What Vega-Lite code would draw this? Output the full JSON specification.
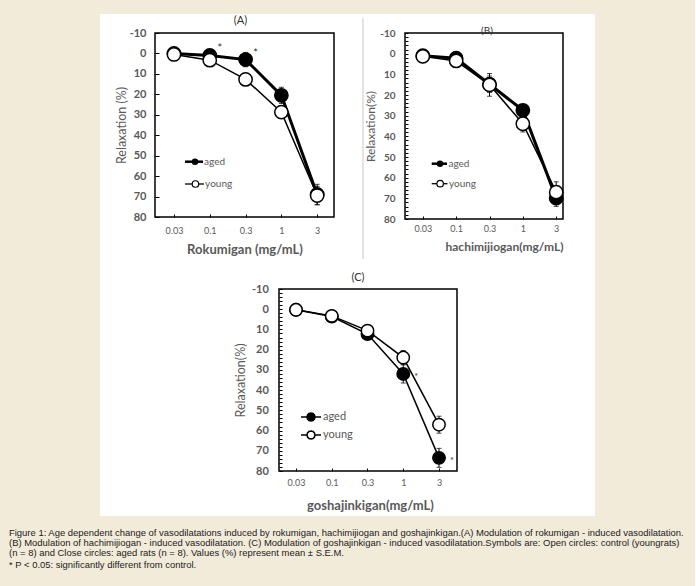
{
  "$schema": "https://vega.github.io/schema/vega-lite/v6.json",
  "background": "#f2ebda",
  "padding": {"left": 9, "top": 13, "right": 10, "bottom": 17},
  "autosize": {"type": "pad"},
  "title": {
    "text": [
      "Figure 1: Age dependent change of vasodilatations induced by rokumigan, hachimijiogan and goshajinkigan.(A) Modulation of rokumigan - induced vasodilatation.",
      "(B) Modulation of hachimijiogan - induced vasodilatation. (C) Modulation of goshajinkigan - induced vasodilatation.Symbols are: Open circles: control (youngrats)",
      "(n = 8) and Close circles: aged rats (n = 8). Values (%) represent mean ± S.E.M."
    ],
    "subtitle": "* P < 0.05: significantly different from control.",
    "orient": "bottom",
    "anchor": "start",
    "frame": "bounds",
    "dx": -91,
    "offset": 12.5,
    "font": "Liberation Sans",
    "fontSize": 9.45,
    "fontWeight": "normal",
    "color": "#1a1a1a",
    "lineHeight": 10,
    "subtitleFont": "Liberation Sans",
    "subtitleFontSize": 9.45,
    "subtitleColor": "#1a1a1a",
    "subtitlePadding": 2.5
  },
  "datasets": {
    "d": [
      {"panel": "A", "group": "aged", "dose": "0.03", "idx": 1, "value": 0, "err": 0.5},
      {"panel": "A", "group": "aged", "dose": "0.1", "idx": 2, "value": 1, "err": 1, "sig": "*"},
      {"panel": "A", "group": "aged", "dose": "0.3", "idx": 3, "value": 3, "err": 3.5, "sig": "*"},
      {"panel": "A", "group": "aged", "dose": "1", "idx": 4, "value": 20.5, "err": 4},
      {"panel": "A", "group": "aged", "dose": "3", "idx": 5, "value": 69, "err": 5},
      {"panel": "A", "group": "young", "dose": "0.03", "idx": 1, "value": 0.5, "err": 0.5},
      {"panel": "A", "group": "young", "dose": "0.1", "idx": 2, "value": 3.3, "err": 1},
      {"panel": "A", "group": "young", "dose": "0.3", "idx": 3, "value": 12.7, "err": 1.5},
      {"panel": "A", "group": "young", "dose": "1", "idx": 4, "value": 28.7, "err": 1.5},
      {"panel": "A", "group": "young", "dose": "3", "idx": 5, "value": 69.5, "err": 4.5},
      {"panel": "B", "group": "aged", "dose": "0.03", "idx": 1, "value": 1, "err": 0.5},
      {"panel": "B", "group": "aged", "dose": "0.1", "idx": 2, "value": 2.2, "err": 0.5},
      {"panel": "B", "group": "aged", "dose": "0.3", "idx": 3, "value": 14.8, "err": 4},
      {"panel": "B", "group": "aged", "dose": "1", "idx": 4, "value": 27.4, "err": 2},
      {"panel": "B", "group": "aged", "dose": "3", "idx": 5, "value": 69.9, "err": 4},
      {"panel": "B", "group": "young", "dose": "0.03", "idx": 1, "value": 1.3, "err": 0.5},
      {"panel": "B", "group": "young", "dose": "0.1", "idx": 2, "value": 3.5, "err": 0.5},
      {"panel": "B", "group": "young", "dose": "0.3", "idx": 3, "value": 15.1, "err": 5.5},
      {"panel": "B", "group": "young", "dose": "1", "idx": 4, "value": 33.9, "err": 4},
      {"panel": "B", "group": "young", "dose": "3", "idx": 5, "value": 67, "err": 5},
      {"panel": "C", "group": "aged", "dose": "0.03", "idx": 1, "value": 0.3, "err": 0.5},
      {"panel": "C", "group": "aged", "dose": "0.1", "idx": 2, "value": 3.6, "err": 1},
      {"panel": "C", "group": "aged", "dose": "0.3", "idx": 3, "value": 12.3, "err": 2},
      {"panel": "C", "group": "aged", "dose": "1", "idx": 4, "value": 32, "err": 4.5, "sig": "*"},
      {"panel": "C", "group": "aged", "dose": "3", "idx": 5, "value": 73.5, "err": 4.7, "sig": "*"},
      {"panel": "C", "group": "young", "dose": "0.03", "idx": 1, "value": 0.3, "err": 0.5},
      {"panel": "C", "group": "young", "dose": "0.1", "idx": 2, "value": 3.3, "err": 1},
      {"panel": "C", "group": "young", "dose": "0.3", "idx": 3, "value": 10.6, "err": 1.5},
      {"panel": "C", "group": "young", "dose": "1", "idx": 4, "value": 23.9, "err": 3.5},
      {"panel": "C", "group": "young", "dose": "3", "idx": 5, "value": 57.1, "err": 4.2}
    ]
  },
  "bounds": "flush",
  "spacing": 256,
  "resolve": {"scale": {"fill": "independent", "strokeWidth": "independent"}, "legend": {"fill": "independent"}},
  "vconcat": [
    {
      "bounds": "flush",
      "spacing": 71,
      "hconcat": [
        {
          "width": 179,
          "height": 184,
          "title": {"text": "(A)", "font": "Lato", "fontSize": 11, "fontWeight": "normal", "color": "#333333", "offset": -12, "dx": -4, "zindex": 1},
          "data": {"name": "d"},
          "transform": [{"filter": "datum.panel === 'A'"}],
          "encoding": {
            "x": {"field": "idx", "type": "quantitative",
              "scale": {"domain": [0.47, 5.47], "nice": false, "zero": false},
              "axis": {"zindex": 1, "values": [1, 2, 3, 4, 5], "labelExpr": "['0.03','0.1','0.3','1','3'][datum.value-1]", "title": "Rokumigan (mg/mL)", "titleFontSize": 13, "titleFontWeight": "bold", "titlePadding": 8, "labelFontSize": 9, "labelPadding": 12, "tickSize": -3}},
            "y": {"field": "value", "type": "quantitative",
              "scale": {"domain": [-10, 80], "reverse": true, "nice": false, "zero": false},
              "axis": {"zindex": 1, "values": [-10, 0, 10, 20, 30, 40, 50, 60, 70, 80], "labelExpr": "'' + datum.value", "title": "Relaxation (%)", "titleFontSize": 12.5, "titleFontWeight": "normal", "titlePadding": 1, "labelFontSize": 11, "labelFontWeight": "bold", "labelPadding": 13, "tickSize": -4}}
          },
          "layer": [
            {"transform": [{"filter": "datum.idx === 1 && datum.group === 'aged'"}],
              "mark": {"type": "rect", "fill": "white"},
              "encoding": {"x": {"datum": -1.066, "type": "quantitative"}, "x2": {"datum": 12.76}, "y": {"datum": -19.3, "type": "quantitative"}, "y2": {"datum": 226.3}}},
            {"transform": [{"filter": "datum.idx === 1 && datum.group === 'aged'"}],
              "mark": {"type": "rule", "color": "#c8c8c8", "strokeWidth": 1},
              "encoding": {"x": {"datum": 6.28, "type": "quantitative"}, "y": {"datum": -17.3, "type": "quantitative"}, "y2": {"datum": 100.6}}},
            {"transform": [{"filter": "datum.idx === 1 && datum.group === 'aged'"}],
              "mark": {"type": "rect", "fillOpacity": 0, "stroke": "black", "strokeWidth": 1.5},
              "encoding": {"x": {"datum": 0.47, "type": "quantitative"}, "x2": {"datum": 5.47}, "y": {"datum": -10, "type": "quantitative"}, "y2": {"datum": 80}}},
            {"mark": {"type": "line", "color": "black"},
              "encoding": {"detail": {"field": "group"}, "strokeWidth": {"field": "group", "type": "nominal", "scale": {"domain": ["aged", "young"], "range": [3, 1.5]}, "legend": null}}},
            {"mark": {"type": "errorbar", "color": "black", "thickness": 1, "ticks": {"size": 5}},
              "encoding": {"yError": {"field": "err"}}},
            {"mark": {"type": "circle", "size": 177, "stroke": "black", "strokeWidth": 1.5, "opacity": 1},
              "encoding": {"fill": {"field": "group", "type": "nominal", "scale": {"domain": ["aged", "young"], "range": ["black", "white"]}, "legend": null}}},
            {"transform": [{"filter": "datum.sig"}],
              "mark": {"type": "text", "dx": 10, "dy": -6, "fontSize": 11, "color": "#333333", "font": "Lato"},
              "encoding": {"text": {"field": "sig"}}},
            {"transform": [{"filter": "datum.idx === 1 && datum.group === 'aged'"}],
              "encoding": {"y": {"datum": 52.95, "type": "quantitative"}},
              "layer": [
                {"mark": {"type": "rule", "color": "black", "strokeWidth": 2.5}, "encoding": {"x": {"datum": 1.308, "type": "quantitative"}, "x2": {"datum": 1.811}}},
                {"mark": {"type": "point", "shape": "circle", "size": 42, "filled": true, "color": "black", "opacity": 1}, "encoding": {"x": {"datum": 1.587, "type": "quantitative"}}},
                {"mark": {"type": "text", "align": "left", "baseline": "middle", "font": "Lato", "fontSize": 10, "color": "#595959"}, "encoding": {"x": {"datum": 1.84, "type": "quantitative"}, "text": {"field": "group"}}}
              ]},
            {"transform": [{"filter": "datum.idx === 1 && datum.group === 'young'"}],
              "encoding": {"y": {"datum": 63.86, "type": "quantitative"}},
              "layer": [
                {"mark": {"type": "rule", "color": "black", "strokeWidth": 1.3}, "encoding": {"x": {"datum": 1.308, "type": "quantitative"}, "x2": {"datum": 1.84}}},
                {"mark": {"type": "point", "shape": "circle", "size": 42, "filled": true, "fill": "white", "stroke": "black", "strokeWidth": 1.2, "opacity": 1}, "encoding": {"x": {"datum": 1.6, "type": "quantitative"}}},
                {"mark": {"type": "text", "align": "left", "baseline": "middle", "font": "Lato", "fontSize": 10, "color": "#595959"}, "encoding": {"x": {"datum": 1.87, "type": "quantitative"}, "text": {"field": "group"}}}
              ]}
          ]
        },
        {
          "width": 158,
          "height": 186,
          "view": {"stroke": "black", "strokeWidth": 1.5},
          "title": {"text": "(B)", "font": "Lato", "fontSize": 10, "fontWeight": "normal", "color": "#333333", "offset": -8, "dx": 3, "zindex": 1},
          "data": {"name": "d"},
          "transform": [{"filter": "datum.panel === 'B'"}],
          "encoding": {
            "x": {"field": "idx", "type": "quantitative",
              "scale": {"domain": [0.466, 5.204], "nice": false, "zero": false},
              "axis": {"values": [1, 2, 3, 4, 5], "labelExpr": "['0.03','0.1','0.3','1','3'][datum.value-1]", "title": "hachimijiogan(mg/mL)", "titleAnchor": "end", "titleFontSize": 12, "titleFontWeight": "bold", "titlePadding": 8, "labelFontSize": 9, "labelPadding": 8.5, "tickSize": -3}},
            "y": {"field": "value", "type": "quantitative",
              "scale": {"domain": [-10, 80], "reverse": true, "nice": false, "zero": false},
              "axis": {"values": [-10, -8, -6, -4, -2, 0, 2, 4, 6, 8, 10, 12, 14, 16, 18, 20, 22, 24, 26, 28, 30, 32, 34, 36, 38, 40, 42, 44, 46, 48, 50, 52, 54, 56, 58, 60, 62, 64, 66, 68, 70, 72, 74, 76, 78, 80],
                "labelExpr": "datum.value % 10 === 0 ? '' + datum.value : ''", "title": "Relaxation(%)", "titleFontSize": 12, "titleFontWeight": "normal", "titlePadding": 2, "labelFontSize": 10, "labelFontWeight": "bold", "labelPadding": 13, "tickSize": -3}}
          },
          "layer": [
            {"mark": {"type": "line", "color": "black"},
              "encoding": {"detail": {"field": "group"}, "strokeWidth": {"field": "group", "type": "nominal", "scale": {"domain": ["aged", "young"], "range": [3, 1.5]}, "legend": null}}},
            {"mark": {"type": "errorbar", "color": "black", "thickness": 1, "ticks": {"size": 5}},
              "encoding": {"yError": {"field": "err"}}},
            {"mark": {"type": "circle", "size": 177, "stroke": "black", "strokeWidth": 1.5, "opacity": 1},
              "encoding": {"fill": {"field": "group", "type": "nominal", "scale": {"domain": ["aged", "young"], "range": ["black", "white"]}, "legend": null}}},
            {"transform": [{"filter": "datum.idx === 1 && datum.group === 'aged'"}],
              "encoding": {"y": {"datum": 53.24, "type": "quantitative"}},
              "layer": [
                {"mark": {"type": "rule", "color": "black", "strokeWidth": 2.5}, "encoding": {"x": {"datum": 1.267, "type": "quantitative"}, "x2": {"datum": 1.725}}},
                {"mark": {"type": "point", "shape": "circle", "size": 42, "filled": true, "color": "black", "opacity": 1}, "encoding": {"x": {"datum": 1.515, "type": "quantitative"}}},
                {"mark": {"type": "text", "align": "left", "baseline": "middle", "font": "Lato", "fontSize": 10, "color": "#595959"}, "encoding": {"x": {"datum": 1.77, "type": "quantitative"}, "text": {"field": "group"}}}
              ]},
            {"transform": [{"filter": "datum.idx === 1 && datum.group === 'young'"}],
              "encoding": {"y": {"datum": 62.92, "type": "quantitative"}},
              "layer": [
                {"mark": {"type": "rule", "color": "black", "strokeWidth": 1.3}, "encoding": {"x": {"datum": 1.267, "type": "quantitative"}, "x2": {"datum": 1.74}}},
                {"mark": {"type": "point", "shape": "circle", "size": 42, "filled": true, "fill": "white", "stroke": "black", "strokeWidth": 1.2, "opacity": 1}, "encoding": {"x": {"datum": 1.52, "type": "quantitative"}}},
                {"mark": {"type": "text", "align": "left", "baseline": "middle", "font": "Lato", "fontSize": 10, "color": "#595959"}, "encoding": {"x": {"datum": 1.785, "type": "quantitative"}, "text": {"field": "group"}}}
              ]}
          ]
        }
      ]
    },
    {
      "width": 302,
      "height": 182,
      "title": {"text": "(C)", "font": "Lato", "fontSize": 11, "fontWeight": "normal", "color": "#333333", "offset": 0, "dx": 52, "zindex": 1},
      "data": {"name": "d"},
      "transform": [{"filter": "datum.panel === 'C'"}],
      "encoding": {
        "x": {"field": "idx", "type": "quantitative",
          "scale": {"domain": [-2.944, 5.5035], "nice": false, "zero": false},
          "axis": {"values": [1, 2, 3, 4, 5], "labelExpr": "['0.03','0.1','0.3','1','3'][datum.value-1]", "title": "goshajinkigan(mg/mL)", "titleX": 215, "titleAlign": "center", "titleFontSize": 13, "titleFontWeight": "bold", "titlePadding": 12, "labelFontSize": 9, "labelPadding": 10.5, "tickSize": -3}},
        "y": {"field": "value", "type": "quantitative",
          "scale": {"domain": [-10, 80], "reverse": true, "nice": false, "zero": false},
          "axis": {"offset": -124, "values": [-10, -8, -6, -4, -2, 0, 2, 4, 6, 8, 10, 12, 14, 16, 18, 20, 22, 24, 26, 28, 30, 32, 34, 36, 38, 40, 42, 44, 46, 48, 50, 52, 54, 56, 58, 60, 62, 64, 66, 68, 70, 72, 74, 76, 78, 80],
            "labelExpr": "datum.value % 10 === 0 ? '' + datum.value : ''", "title": "Relaxation(%)", "titleFontSize": 12.5, "titleFontWeight": "normal", "titlePadding": 4, "labelFontSize": 11, "labelFontWeight": "bold", "labelPadding": 13.7, "tickSize": -3}}
      },
      "layer": [
        {"transform": [{"filter": "datum.idx === 1 && datum.group === 'aged'"}],
          "mark": {"type": "rect", "fillOpacity": 0, "stroke": "black", "strokeWidth": 1.5},
          "encoding": {"x": {"datum": 0.5245, "type": "quantitative"}, "x2": {"datum": 5.5035}, "y": {"datum": -10, "type": "quantitative"}, "y2": {"datum": 80}}},
        {"mark": {"type": "line", "color": "black", "strokeWidth": 1.5},
          "encoding": {"detail": {"field": "group"}}},
        {"mark": {"type": "errorbar", "color": "black", "thickness": 1, "ticks": {"size": 5}},
          "encoding": {"yError": {"field": "err"}}},
        {"mark": {"type": "circle", "size": 154, "stroke": "black", "strokeWidth": 1.5, "opacity": 1},
          "encoding": {"fill": {"field": "group", "type": "nominal", "scale": {"domain": ["aged", "young"], "range": ["black", "white"]},
            "legend": {"orient": "none", "legendX": 145, "legendY": 117, "title": null, "padding": 0, "symbolType": "M-1,0L-0.4,0M0.4,0L1,0M0.4,0L0.346,0.2L0.2,0.346L0,0.4L-0.2,0.346L-0.346,0.2L-0.4,0L-0.346,-0.2L-0.2,-0.346L0,-0.4L0.2,-0.346L0.346,-0.2Z", "symbolSize": 400, "symbolStrokeColor": "black", "symbolStrokeWidth": 1.5, "labelFont": "Lato", "labelFontSize": 11, "labelColor": "#595959", "labelOffset": 1, "rowPadding": 0}}}},
        {"transform": [{"filter": "datum.sig"}],
          "mark": {"type": "text", "dx": 13, "dy": 3, "fontSize": 9, "color": "#333333", "font": "Lato"},
          "encoding": {"text": {"field": "sig"}}}
      ]
    }
  ],
  "config": {
    "view": {"stroke": null},
    "axis": {"zindex": 1, "grid": false, "domain": false, "tickColor": "black", "tickWidth": 1, "labelFont": "Lato", "titleFont": "Lato", "labelColor": "#595959", "titleColor": "#595959", "labelOverlap": false, "labelFlush": false}
  }
}
